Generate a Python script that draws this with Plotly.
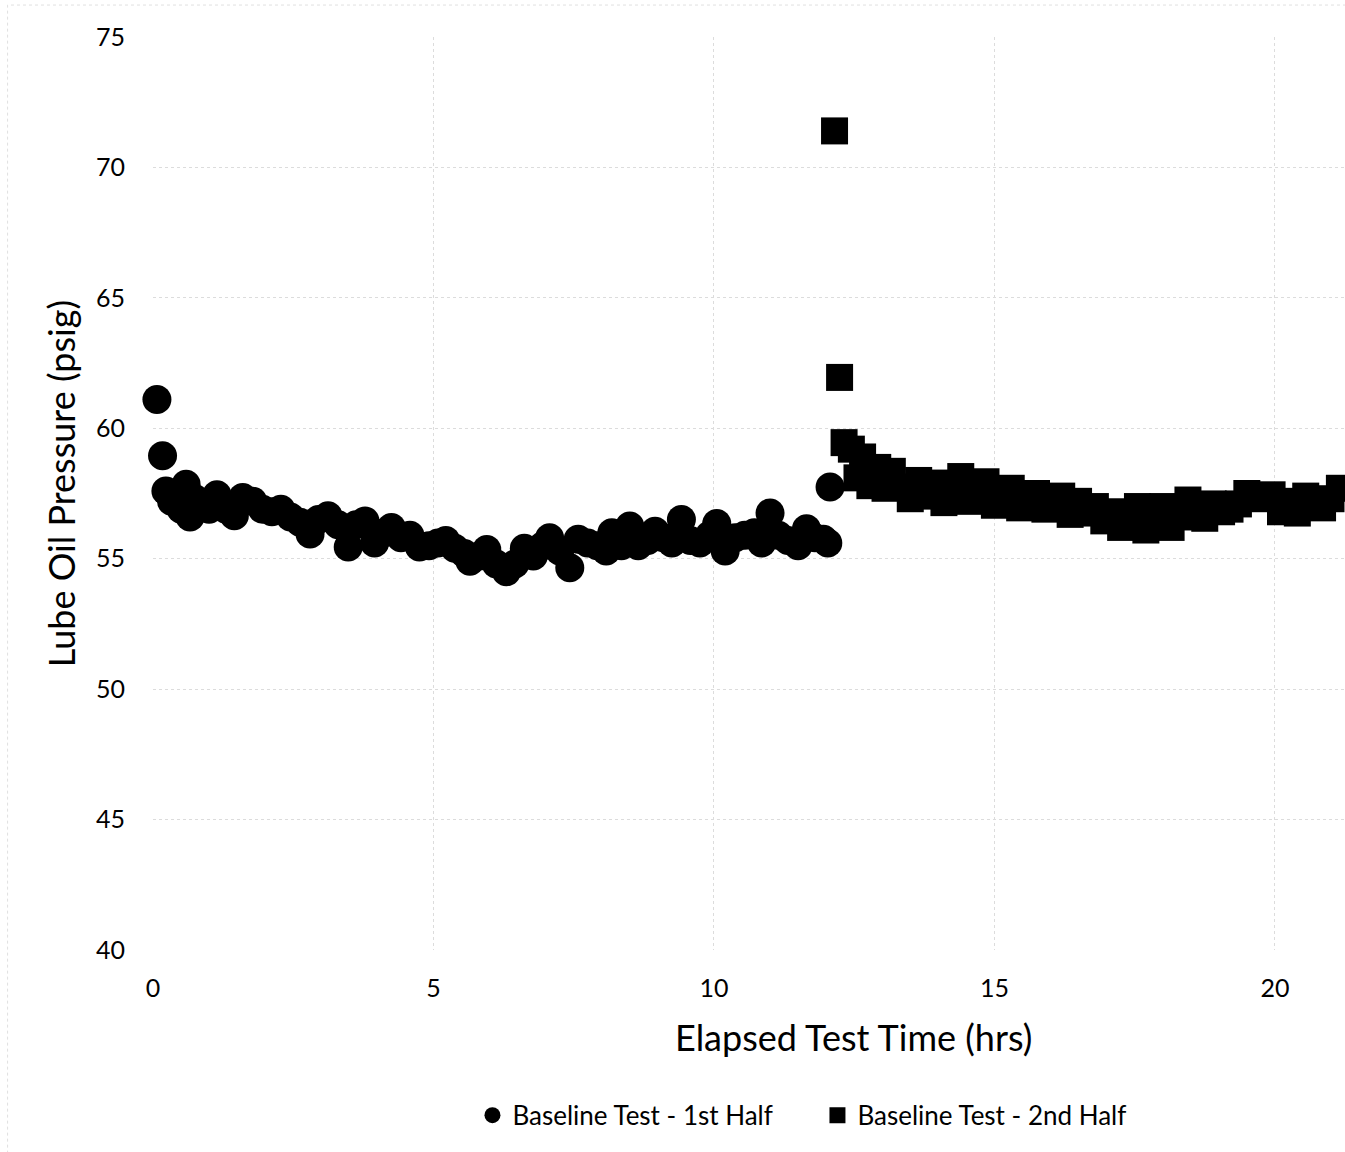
import plotly.graph_objects as go

# Baseline Test - 1st Half (circles)
x_first = [0.07, 0.17, 0.23, 0.33, 0.42, 0.50, 0.59, 0.66, 0.75, 0.85,
           1.00, 1.14, 1.30, 1.45, 1.60, 1.78, 1.95, 2.12, 2.28, 2.45,
           2.62, 2.80, 2.95, 3.12, 3.30, 3.48, 3.62, 3.78, 3.95, 4.12,
           4.25, 4.42, 4.58, 4.75, 4.92, 5.08, 5.22, 5.38, 5.55, 5.65,
           5.82, 5.95, 6.12, 6.30, 6.45, 6.62, 6.78, 6.95, 7.07, 7.25,
           7.43, 7.58, 7.75, 7.92, 8.08, 8.18, 8.35, 8.50, 8.65, 8.82,
           8.95, 9.10, 9.25, 9.42, 9.58, 9.75, 9.92, 10.05, 10.20, 10.38,
           10.55, 10.72, 10.85, 11.00, 11.15, 11.32, 11.50, 11.65, 11.80, 11.95,
           12.03, 12.07]
y_first = [61.1, 58.95, 57.6, 57.2, 57.4, 56.9, 57.85, 56.6, 57.3, 57.0,
           56.9, 57.45, 56.9, 56.65, 57.35, 57.2, 56.9, 56.8, 56.9, 56.6,
           56.4, 55.95, 56.5, 56.65, 56.3, 55.45, 56.3, 56.45, 55.6, 56.0,
           56.2, 55.8, 55.9, 55.45, 55.5, 55.6, 55.7, 55.4, 55.2, 54.9,
           55.1, 55.35, 54.8, 54.5, 54.8, 55.4, 55.1, 55.5, 55.8, 55.3,
           54.65, 55.75, 55.6, 55.5, 55.3, 56.0, 55.5, 56.25, 55.5, 55.7,
           56.05, 55.8, 55.6, 56.5, 55.7, 55.6, 55.9, 56.35, 55.3, 55.8,
           55.9, 56.0, 55.6, 56.75, 55.9, 55.7, 55.5, 56.15, 55.8, 55.75,
           55.6, 57.75]

# Baseline Test - 2nd Half (squares)
x_second = [12.15, 12.24, 12.32, 12.45, 12.55, 12.65, 12.78, 12.92, 13.05, 13.18,
            13.35, 13.50, 13.65, 13.80, 13.95, 14.10, 14.25, 14.40, 14.55, 14.70,
            14.85, 15.00, 15.15, 15.30, 15.45, 15.60, 15.75, 15.90, 16.05, 16.20,
            16.35, 16.50, 16.65, 16.80, 16.95, 17.10, 17.25, 17.40, 17.55, 17.70,
            17.85, 18.00, 18.15, 18.30, 18.45, 18.60, 18.75, 18.90, 19.05, 19.20,
            19.35, 19.50, 19.65, 19.80, 19.95, 20.10, 20.25, 20.40, 20.55, 20.70,
            20.85, 21.00, 21.15]
y_second = [71.4, 61.95, 59.45, 59.2, 58.1, 58.9, 57.8, 58.5, 57.7, 58.35,
            57.75, 57.3, 58.0, 57.4, 57.9, 57.15, 57.6, 58.15, 57.2, 57.5,
            57.95, 57.05, 57.3, 57.7, 56.95, 57.2, 57.5, 56.9, 57.1, 57.4,
            56.7, 57.2, 56.75, 57.0, 56.45, 56.8, 56.2, 56.7, 57.0, 56.1,
            56.6, 57.0, 56.2, 56.9, 57.25, 56.6, 56.55, 57.1, 56.8, 56.9,
            57.1, 57.5, 57.3, 57.35, 57.45, 56.8, 57.2, 56.75, 57.4, 57.0,
            56.95, 57.3, 57.7]

x_ticks = [0, 5, 10, 15, 20]
y_ticks = [40, 45, 50, 55, 60, 65, 70, 75]

FONT = "Lato, 'Open Sans', sans-serif"

fig = go.Figure()
fig.add_trace(go.Scatter(
    x=x_first, y=y_first, mode="markers", name="Baseline Test - 1st Half",
    marker=dict(symbol="circle", size=29, color="black"),
    cliponaxis=False,
))
fig.add_trace(go.Scatter(
    x=x_second, y=y_second, mode="markers", name="Baseline Test - 2nd Half",
    marker=dict(symbol="square", size=27, color="black"),
))

fig.update_layout(
    width=1345, height=1152,
    margin=dict(l=153, r=0, t=37, b=202),
    paper_bgcolor="white", plot_bgcolor="white",
    font=dict(family=FONT, color="black"),
    showlegend=True,
    legend=dict(
        orientation="h", x=0.268, xanchor="left", y=-0.181, yanchor="middle",
        font=dict(size=26, family=FONT),
        entrywidth=300, entrywidthmode="pixels",
        itemsizing="trace",
    ),
    xaxis=dict(
        range=[0, 21.25], tickvals=x_ticks, showgrid=True,
        gridcolor="#dcdcdc", griddash="dot", gridwidth=1,
        zeroline=False, showline=False,
        tickfont=dict(size=25, family=FONT),
        ticks="outside", ticklen=16, tickcolor="rgba(0,0,0,0)",
    ),
    yaxis=dict(
        range=[40, 75], tickvals=y_ticks, showgrid=True,
        gridcolor="#dcdcdc", griddash="dot", gridwidth=1,
        zeroline=False, showline=False,
        tickfont=dict(size=25, family=FONT),
        ticks="outside", ticklen=22, tickcolor="rgba(0,0,0,0)",
    ),
    annotations=[
        dict(
            text="Elapsed Test Time (hrs)", xref="paper", yref="paper",
            x=0.588, y=-0.095, xanchor="center", yanchor="middle",
            showarrow=False, font=dict(size=36, family=FONT),
        ),
        dict(
            text="Lube Oil Pressure (psig)", xref="paper", yref="paper",
            x=-0.0765, y=0.511, xanchor="center", yanchor="middle",
            textangle=-90, showarrow=False, font=dict(size=36, family=FONT),
        ),
    ],
    shapes=[dict(
        type="rect", xref="paper", yref="paper",
        x0=-0.122, x1=1.2, y0=-0.232, y1=1.035,
        line=dict(color="#e0e0e0", width=1, dash="dot"), layer="below",
    )],
)

fig.write_html("out.html")
